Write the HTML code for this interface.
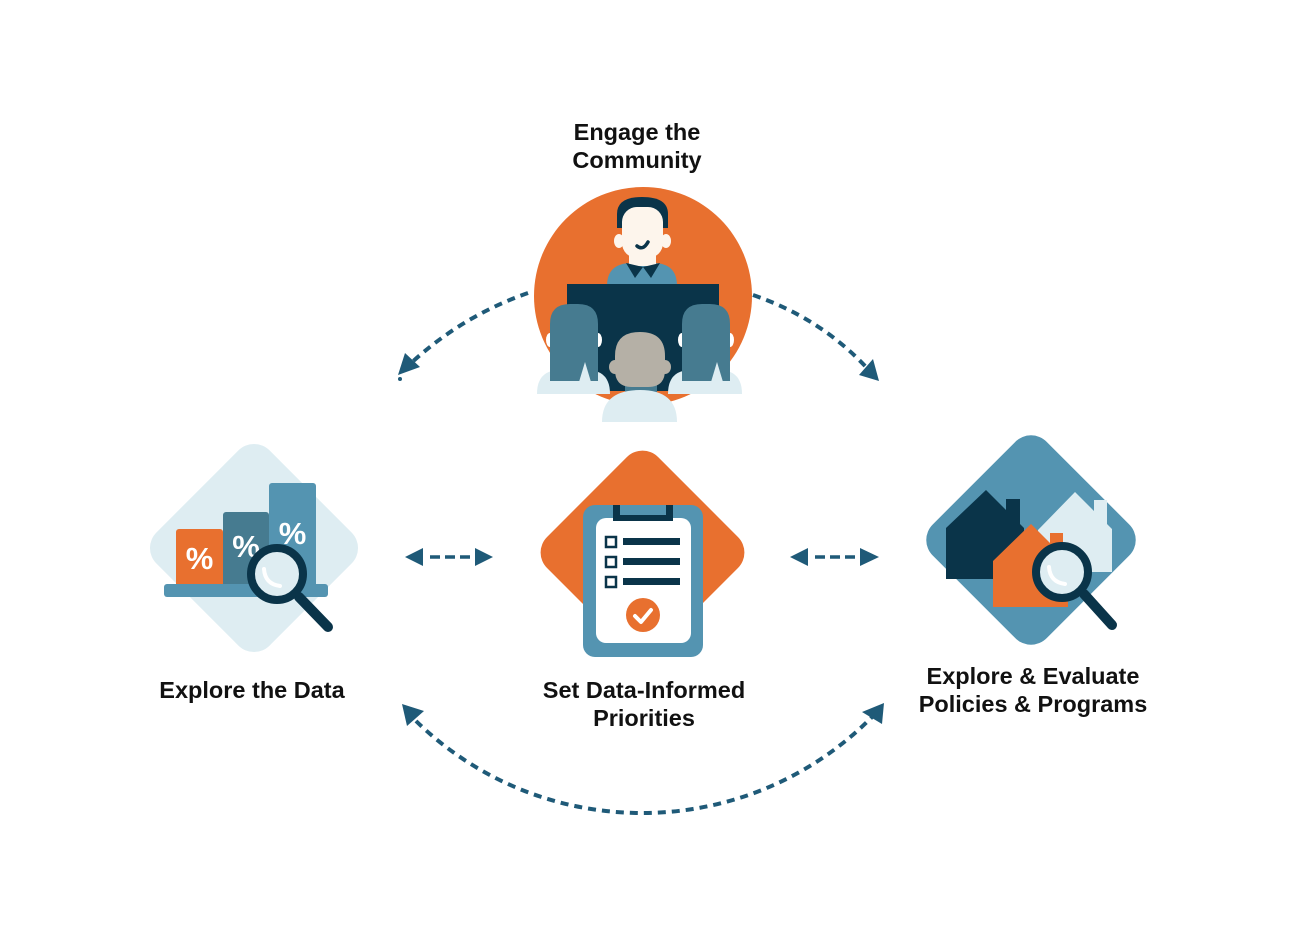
<!DOCTYPE html>
<html>
<head>
<meta charset="utf-8">
<style>
  html,body{margin:0;padding:0;background:#fff;}
  body{width:1300px;height:938px;overflow:hidden;}
  svg{display:block;}
  .t{font-family:"Liberation Sans",Arial,sans-serif;font-weight:bold;font-size:23.5px;fill:#111;}
  .pct{font-family:"Liberation Sans",Arial,sans-serif;font-weight:bold;font-size:31px;fill:#fff;}
</style>
</head>
<body>
<svg width="1300" height="938" viewBox="0 0 1300 938" xmlns="http://www.w3.org/2000/svg">
  <!-- Labels -->
  <text class="t" x="637" y="140" text-anchor="middle">Engage the</text>
  <text class="t" x="637" y="168" text-anchor="middle">Community</text>
  <text class="t" x="252" y="698" text-anchor="middle">Explore the Data</text>
  <text class="t" x="644" y="698" text-anchor="middle">Set Data-Informed</text>
  <text class="t" x="644" y="726" text-anchor="middle">Priorities</text>
  <text class="t" x="1033" y="684" text-anchor="middle">Explore &amp; Evaluate</text>
  <text class="t" x="1033" y="712" text-anchor="middle">Policies &amp; Programs</text>

  <!-- ===== Top illustration: Engage the Community ===== -->
  <circle cx="643" cy="296" r="109" fill="#e8702f"/>
  <!-- presenter -->
  <path d="M607,286 Q607,263 632,263 H653 Q677,263 677,286 Z" fill="#5494b1"/>
  <rect x="629" y="248" width="27" height="18" fill="#fdf5ec"/>
  <ellipse cx="619" cy="241" rx="5" ry="7" fill="#fdf5ec"/>
  <ellipse cx="666" cy="241" rx="5" ry="7" fill="#fdf5ec"/>
  <path d="M617,228 V214 Q617,197 642,197 Q668,197 668,214 V228 Z" fill="#0a3449"/>
  <rect x="622" y="207" width="41" height="51" rx="15" fill="#fdf5ec"/>
  <path d="M637,246 Q643,251 648,242" stroke="#0a3449" stroke-width="3.5" fill="none" stroke-linecap="round"/>
  <path d="M626,263 L643,267 L635,278 Z" fill="#0a3449"/>
  <path d="M660,263 L643,267 L651,278 Z" fill="#0a3449"/>
  <!-- screen -->
  <rect x="567" y="284" width="152" height="107" fill="#0a3449"/>
  <!-- left woman -->
  <path d="M537,394 Q537,370 560,370 H587 Q610,370 610,394 Z" fill="#deedf2"/>
  <ellipse cx="550" cy="340" rx="4" ry="7" fill="#fff"/>
  <ellipse cx="598" cy="340" rx="4" ry="7" fill="#fff"/>
  <path d="M550,381 V324 Q550,304 570,304 H578 Q598,304 598,324 V381 Z" fill="#467b90"/>
  <path d="M579,382 L585,362 L591,382 Z" fill="#deedf2"/>
  <!-- right woman -->
  <path d="M668,394 Q668,370 691,370 H719 Q742,370 742,394 Z" fill="#deedf2"/>
  <ellipse cx="682" cy="340" rx="4" ry="7" fill="#fff"/>
  <ellipse cx="730" cy="340" rx="4" ry="7" fill="#fff"/>
  <path d="M682,381 V324 Q682,304 702,304 H710 Q730,304 730,324 V381 Z" fill="#467b90"/>
  <path d="M711,382 L717,362 L723,382 Z" fill="#deedf2"/>
  <!-- center man -->
  <rect x="625" y="380" width="32" height="13" fill="#467b90"/>
  <ellipse cx="615" cy="367" rx="6" ry="7" fill="#b5b0a6"/>
  <ellipse cx="665" cy="367" rx="6" ry="7" fill="#b5b0a6"/>
  <path d="M615,356 Q615,332 640,332 Q665,332 665,356 V370 Q665,387 648,387 H632 Q615,387 615,370 Z" fill="#b5b0a6"/>
  <path d="M602,422 Q602,390 640,390 Q677,390 677,422 Z" fill="#deedf2"/>

  <!-- ===== Left diamond: Explore the Data ===== -->
  <rect x="174" y="468" width="160" height="160" rx="22" fill="#deedf2" transform="rotate(45 254 548)"/>
  <rect x="176" y="529" width="47" height="60" rx="3" fill="#e8702f"/>
  <rect x="223" y="512" width="46" height="77" rx="3" fill="#467b90"/>
  <rect x="269" y="483" width="47" height="106" rx="3" fill="#5494b1"/>
  <text class="pct" x="199.5" y="569" text-anchor="middle">%</text>
  <text class="pct" x="246" y="557" text-anchor="middle">%</text>
  <text class="pct" x="292.5" y="544" text-anchor="middle">%</text>
  <rect x="164" y="584" width="164" height="13" rx="3" fill="#5494b1"/>
  <line x1="299" y1="597" x2="328" y2="627" stroke="#0a3449" stroke-width="10" stroke-linecap="round"/>
  <circle cx="277" cy="574" r="26" fill="#deedf2" stroke="#0a3449" stroke-width="8"/>
  <path d="M264,569 Q265,584 280,586" stroke="#fff" stroke-width="4" fill="none" stroke-linecap="round"/>

  <!-- ===== Center diamond: Set Data-Informed Priorities ===== -->
  <rect x="564" y="474" width="157" height="157" rx="22" fill="#e8702f" transform="rotate(45 642.5 552.5)"/>
  <rect x="583" y="505" width="120" height="152" rx="12" fill="#5494b1"/>
  <rect x="596" y="518" width="95" height="125" rx="10" fill="#fff"/>
  <path d="M613,505 H620 V515 H666 V505 H673 V521 H613 Z" fill="#0a3449"/>
  <rect x="606" y="537" width="10" height="10" fill="none" stroke="#0a3449" stroke-width="2.5"/>
  <rect x="606" y="557" width="10" height="10" fill="none" stroke="#0a3449" stroke-width="2.5"/>
  <rect x="606" y="577" width="10" height="10" fill="none" stroke="#0a3449" stroke-width="2.5"/>
  <rect x="623" y="538" width="57" height="7" fill="#0a3449"/>
  <rect x="623" y="558" width="57" height="7" fill="#0a3449"/>
  <rect x="623" y="578" width="57" height="7" fill="#0a3449"/>
  <circle cx="643" cy="615" r="17" fill="#e8702f"/>
  <path d="M635,616 L641,622 L651,610" stroke="#fff" stroke-width="4" fill="none" stroke-linecap="round" stroke-linejoin="round"/>

  <!-- ===== Right diamond: Explore & Evaluate ===== -->
  <rect x="950.5" y="459.5" width="161" height="161" rx="22" fill="#5494b1" transform="rotate(45 1031 540)"/>
  <path d="M1038,530 L1075,492 L1094,511 V500 H1107 V524 L1112,529 V572 H1038 Z" fill="#deedf2"/>
  <path d="M946,528 L986,490 L1006,510 V499 H1020 V524 L1024,528 V579 H946 Z" fill="#0a3449"/>
  <path d="M993,561 L1031,524 L1050,543 V533 H1063 V556 L1068,561 V607 H993 Z" fill="#e8702f"/>
  <line x1="1084" y1="594" x2="1112" y2="625" stroke="#0a3449" stroke-width="10" stroke-linecap="round"/>
  <circle cx="1062" cy="572" r="26" fill="#deedf2" stroke="#0a3449" stroke-width="8"/>
  <path d="M1049,567 Q1050,582 1065,584" stroke="#fff" stroke-width="4" fill="none" stroke-linecap="round"/>

  <!-- ===== Connectors ===== -->
  <g stroke="#1f5a78" fill="none" stroke-width="4">
    <path d="M528,293 Q462,316 410,364" stroke-dasharray="8 6"/>
    <path d="M753,295 Q820,318 866,367" stroke-dasharray="8 6"/>
    <path d="M416,721 A323.5 323.5 0 0 0 872,717" stroke-dasharray="8 6"/>
  </g>
  <g stroke="#1f5a78" stroke-width="3.5" fill="none">
    <line x1="430" y1="557" x2="471" y2="557" stroke-dasharray="10 5"/>
    <line x1="815" y1="557" x2="856" y2="557" stroke-dasharray="10 5"/>
  </g>
  <circle cx="400" cy="379" r="2" fill="#1f5a78"/>
  <g fill="#1f5a78">
    <polygon points="405,353 420,367 398,375"/>
    <polygon points="873,359 859,375 879,381"/>
    <polygon points="402,704 407,726 424,711"/>
    <polygon points="884,703 862,712 882,724"/>
    <polygon points="405,557 423,548 423,566"/>
    <polygon points="475,548 475,566 493,557"/>
    <polygon points="790,557 808,548 808,566"/>
    <polygon points="860,548 860,566 879,557"/>
  </g>
</svg>
</body>
</html>
